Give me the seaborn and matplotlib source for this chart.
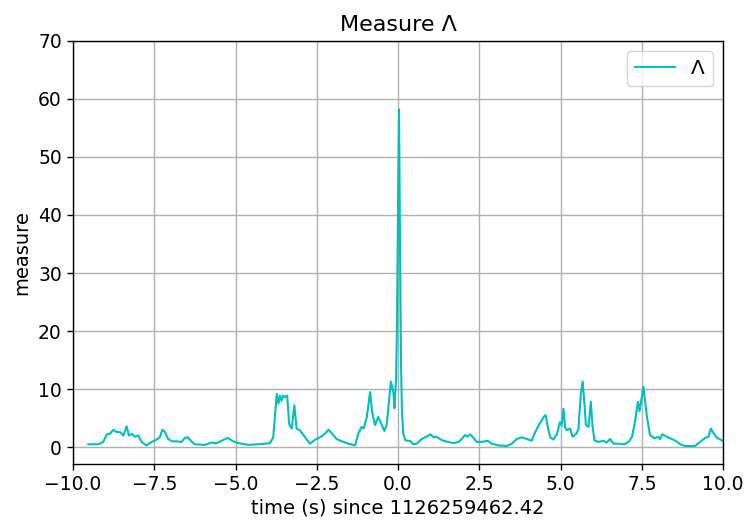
import matplotlib
matplotlib.use("Agg")
import matplotlib.pyplot as plt
import seaborn as sns
import pandas as pd

time_s = [-9.53, -9.22, -9.07, -8.96, -8.86, -8.76, -8.66, -8.55, -8.45, -8.35,
          -8.28, -8.19, -8.09, -7.99, -7.89, -7.74, -7.58, -7.43, -7.33, -7.25,
          -7.17, -7.07, -6.95, -6.81, -6.66, -6.56, -6.46, -6.36, -6.25, -5.94,
          -5.73, -5.60, -5.43, -5.24, -5.07, -4.92, -4.61, -4.30, -4.09, -3.94,
          -3.84, -3.73, -3.68, -3.63, -3.58, -3.53, -3.48, -3.41, -3.35, -3.27,
          -3.19, -3.12, -3.02, -2.86, -2.71, -2.55, -2.37, -2.25, -2.14, -2.04,
          -1.89, -1.68, -1.53, -1.32, -1.22, -1.12, -1.06, -0.96, -0.86, -0.80,
          -0.71, -0.61, -0.50, -0.42, -0.35, -0.27, -0.22, -0.14, -0.11, -0.06,
          -0.03, 0.00, 0.03, 0.06, 0.09, 0.12, 0.16, 0.22, 0.30, 0.37,
          0.47, 0.57, 0.73, 0.83, 0.93, 1.00, 1.09, 1.19, 1.29, 1.40,
          1.55, 1.70, 1.86, 1.96, 2.06, 2.13, 2.22, 2.32, 2.42, 2.57,
          2.75, 2.88, 3.09, 3.35, 3.50, 3.65, 3.81, 3.96, 4.11, 4.22,
          4.35, 4.42, 4.49, 4.54, 4.61, 4.68, 4.78, 4.89, 4.98, 5.03,
          5.09, 5.14, 5.19, 5.29, 5.37, 5.50, 5.55, 5.62, 5.68, 5.73,
          5.78, 5.86, 5.93, 5.98, 6.04, 6.16, 6.32, 6.42, 6.52, 6.63,
          6.78, 6.96, 7.09, 7.20, 7.29, 7.38, 7.43, 7.55, 7.65, 7.75,
          7.89, 7.99, 8.06, 8.13, 8.27, 8.42, 8.57, 8.68, 8.83, 9.14,
          9.29, 9.45, 9.55, 9.62, 9.71, 9.81, 9.96, 10.0]

measure = [0.5, 0.5, 0.9, 2.2, 2.3, 3.0, 2.6, 2.6, 2.0, 3.6,
           2.0, 2.3, 1.8, 2.0, 0.9, 0.3, 0.9, 1.3, 1.7, 3.0,
           2.6, 1.4, 1.0, 1.0, 0.9, 1.6, 1.7, 1.0, 0.5, 0.4,
           0.8, 0.65, 1.1, 1.6, 1.0, 0.7, 0.4, 0.5, 0.6, 0.7,
           1.7, 9.2, 7.5, 8.9, 8.0, 8.9, 8.6, 8.9, 4.0, 3.2,
           7.2, 3.2, 2.9, 1.7, 0.6, 1.3, 1.8, 2.3, 3.0, 2.4,
           1.4, 0.9, 0.6, 0.3, 2.4, 3.5, 3.2, 5.2, 9.5, 6.1,
           3.8, 5.2, 3.8, 2.8, 3.8, 8.4, 11.3, 9.3, 6.7, 12.0,
           22.0, 42.0, 58.2, 35.0, 15.0, 6.0, 2.4, 1.2, 1.1, 1.1,
           0.5, 0.6, 1.4, 1.7, 2.0, 2.2, 1.7, 1.8, 1.4, 1.1,
           0.9, 0.7, 0.9, 1.4, 2.1, 1.8, 2.2, 1.6, 0.9, 0.9,
           1.1, 0.6, 0.3, 0.2, 0.6, 1.4, 1.7, 1.4, 1.1, 2.6,
           4.0, 4.6, 5.3, 5.5, 3.4, 1.7, 1.3, 2.3, 4.3, 3.7,
           6.6, 3.4, 2.9, 3.2, 1.8, 2.4, 3.2, 9.0, 11.3, 7.8,
           3.8, 3.5, 7.8, 3.8, 1.2, 0.9, 1.1, 0.8, 1.4, 0.6,
           0.6, 0.5, 0.9, 1.8, 4.4, 7.8, 6.2, 10.4, 5.5, 2.1,
           1.5, 1.8, 1.4, 2.2, 1.8, 1.4, 1.0, 0.5, 0.2, 0.2,
           0.9, 1.6, 1.8, 3.2, 2.4, 1.6, 1.2, 1.0]

x_ticks = [-10.0, -7.5, -5.0, -2.5, 0.0, 2.5, 5.0, 7.5, 10.0]
y_ticks = [0, 10, 20, 30, 40, 50, 60, 70]

df = pd.DataFrame({"time": time_s, "measure": measure})

fig = plt.figure(figsize=(7.47, 5.24), dpi=100)
ax = fig.add_axes([0.0977, 0.1145, 0.8703, 0.8075])

sns.lineplot(data=df, x="time", y="measure", ax=ax, color="c",
             linewidth=1.5, label="Λ", sort=False)

ax.set_xlim(-10, 10)
ax.set_ylim(-2.9, 70)
ax.set_xticks(x_ticks)
ax.set_yticks(y_ticks)
ax.grid(True, color="#b0b0b0", linewidth=1.0)
ax.set_axisbelow(True)
ax.tick_params(labelsize=13.5, length=4.5, width=1.0)
for s in ax.spines.values():
    s.set_linewidth(1.0)
ax.set_xlabel("time (s) since 1126259462.42", fontsize=14, labelpad=3)
ax.set_ylabel("measure", fontsize=14, labelpad=5)
ax.set_title("Measure Λ", fontsize=16, pad=7)
ax.legend(loc="upper right", fontsize=14.5)

fig.savefig("out.png", dpi=100)
